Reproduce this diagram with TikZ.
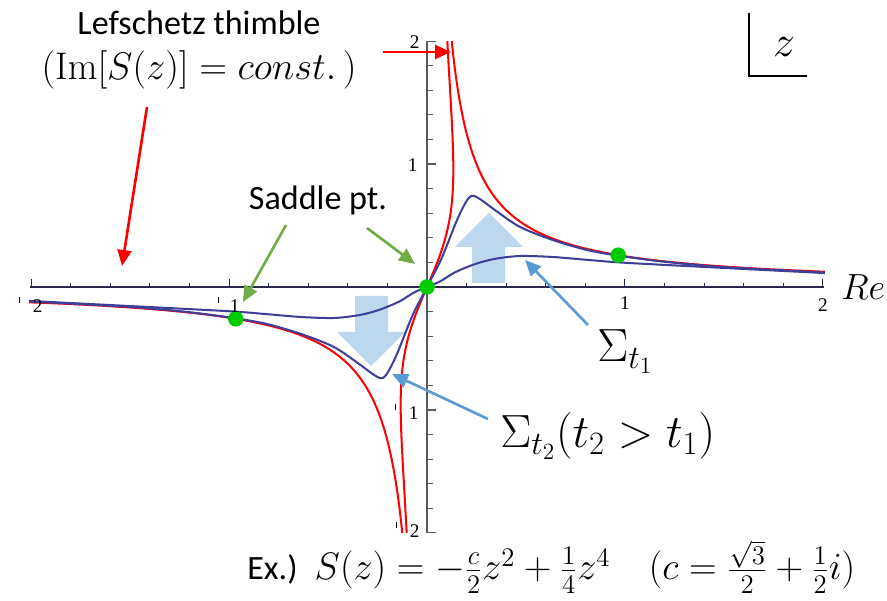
\RequirePackage{fix-cm}
\documentclass[tikz,border=0pt]{standalone}
\usepackage[no-math]{fontspec}
\setmainfont{Carlito}
\newfontfamily\tickfont{Liberation Serif}
\usetikzlibrary{arrows.meta}

\definecolor{thimblered}{RGB}{255,0,0}
\definecolor{flowblue}{RGB}{62,62,155}
\definecolor{saddlegreen}{RGB}{0,204,0}
\definecolor{pushblue}{RGB}{189,215,238}
\definecolor{noteblue}{RGB}{91,155,213}
\definecolor{notegreen}{RGB}{112,173,71}
\definecolor{axisdark}{RGB}{40,40,80}
\definecolor{axisgrey}{RGB}{90,90,90}

\newcommand{\negmark}{\rule[0.5em]{0.5pt}{0.3em}}

\begin{document}
\begin{tikzpicture}[x=0.02cm,y=-0.02cm,
  declare function={
    thA(\t)=sqrt(max(0,2*sin(2*\t+30)/sin(4*\t)));
    thB(\t)=sqrt(3.4641/(4*sin(2*\t+30)-sign(15-\t)*sqrt(max(0,16*sin(2*\t+30)*sin(2*\t+30)-13.8564*sin(4*\t)))));
  },
  thimble/.style={thimblered,line width=1.15pt},
  flow/.style={flowblue,line width=1.15pt},
  saddle/.style={fill=saddlegreen},
  note/.style={line width=1.5pt,-{Triangle[length=0.32cm,width=0.28cm]}},
  words/.style={font=\fontsize{19.4}{23}\selectfont,inner sep=0pt},
  mathwords/.style={font=\fontsize{21.9}{26}\selectfont,inner sep=0pt},
  sigmawords/.style={font=\fontsize{26.5}{31}\selectfont,inner sep=0pt},
  ticklabel/.style={font=\tickfont\fontsize{11}{13}\selectfont,inner sep=0pt},
]
\useasboundingbox (0,0) rectangle (887,601);

% push arrows behind the curves
\fill[pushblue] (472,283) -- (472,247) -- (455,247) -- (489,213) -- (523,247) -- (505,247) -- (505,283) -- cycle;
\fill[pushblue] (355,296) -- (355,332) -- (337,332) -- (371,366) -- (405,332) -- (388,332) -- (388,296) -- cycle;

\begin{scope}[shift={(427,287)},x=3.96cm,y=2.46cm]
  % axes and ticks
  \draw[axisdark,line width=1.1pt] (-2.005,0) -- (2.005,0);
  \draw[axisgrey,line width=0.85pt] (0,-2) -- (0,2);
  \foreach \i in {-10,...,10} {
    \draw[axisdark,line width=0.6pt] (\i/5,0) -- ++(0pt,0.08cm);
    \draw[axisgrey,line width=0.6pt] (0,\i/5) -- ++(0.12cm,0pt);
  }
  \foreach \i in {-2,...,2} {
    \draw[axisdark,line width=0.6pt] (\i,0) -- ++(0pt,0.16cm);
    \draw[axisgrey,line width=0.6pt] (0,\i) -- ++(0.18cm,0pt);
  }
  \begin{scope}
    \clip (-2.01,-2) rectangle (2.01,2);
    \foreach \s in {1,-1} {
      \begin{scope}[scale=\s]
        \draw[thimble] plot[domain=75:88,samples=160] ({thA(\x)*cos(\x)},{thA(\x)*sin(\x)});
        \draw[thimble] plot[domain=2.5:88,samples=400] ({thB(\x)*cos(\x)},{thB(\x)*sin(\x)});
      \end{scope}
    }
    % flowed contours
    \draw[flow] plot[smooth] coordinates {(-2.05,-0.11) (-1.5,-0.155) (-1.0,-0.197) (-0.808,-0.221) (-0.636,-0.244) (-0.47,-0.252) (-0.34,-0.228) (-0.24,-0.185) (-0.14,-0.118) (-0.066,-0.045) (0,0) (0.066,0.045) (0.14,0.118) (0.24,0.185) (0.34,0.228) (0.47,0.252) (0.636,0.244) (0.808,0.221) (1.0,0.197) (1.5,0.155) (2.05,0.11)};
    \draw[flow] plot[smooth] coordinates {(-2.05,-0.114) (-1.5,-0.162) (-1.2,-0.205) (-0.966,-0.255) (-0.808,-0.301) (-0.636,-0.382) (-0.47,-0.488) (-0.343,-0.626) (-0.276,-0.706) (-0.234,-0.742) (-0.209,-0.721) (-0.175,-0.626) (-0.141,-0.504) (-0.108,-0.368) (-0.066,-0.206) (0,0) (0.066,0.206) (0.108,0.368) (0.141,0.504) (0.175,0.626) (0.209,0.721) (0.234,0.742) (0.276,0.706) (0.343,0.626) (0.47,0.488) (0.636,0.382) (0.808,0.301) (0.966,0.255) (1.2,0.205) (1.5,0.162) (2.05,0.114)};
  \end{scope}
  % saddle points
  \fill[saddle] (0,0) circle (0.155cm);
  \fill[saddle] (0.966,0.259) circle (0.155cm);
  \fill[saddle] (-0.966,-0.259) circle (0.155cm);
\end{scope}

% tick labels
\node[ticklabel,anchor=east] (ytwo) at (420,42) {2};
\node[ticklabel,anchor=east] (yone) at (418,165) {1};
\node[ticklabel,anchor=east] (ymone) at (419,412) {\negmark\hspace{0.7em}1};
\node[ticklabel,anchor=east] (ymtwo) at (420,530) {\negmark\hspace{0.7em}2};
\node[ticklabel,anchor=east] (xmtwo) at (43,305) {\negmark\hspace{0.7em}2};
\node[ticklabel,anchor=east] (xmone) at (240,305) {\negmark\hspace{0.6em}1};
\node[ticklabel] (xone) at (625,303) {1};
\node[ticklabel] (xtwo) at (823,305) {2};

% labels
\node[words,anchor=base] (thimbletitle) at (199,35) {Lefschetz thimble};
\node[mathwords,anchor=base] (thimbleeq) at (199,80) {$(\mathrm{Im}[S(z)]=const.\,)$};
\node[words,anchor=base] (saddlelabel) at (318,210) {Saddle pt.};
\node[sigmawords,anchor=base west] (sigmaone) at (597,362) {$\Sigma_{t_1}$};
\node[sigmawords,anchor=base west] (sigmatwo) at (500,448) {$\Sigma_{t_2}(t_2>t_1)$};
\node[font=\fontsize{20.7}{25}\selectfont,inner sep=0pt,anchor=base west] (realaxis) at (841,300) {$Re$};
\node[font=\fontsize{25}{30}\selectfont,inner sep=0pt,anchor=base] (zplane) at (784,57) {$z$};
\draw[line width=1.5pt] (749,13) -- (749,76) -- (807,76);
\node[words,anchor=base west] (example) at (247,580) {Ex.)\hspace{0.5em}\fontsize{21.8}{26}\selectfont$S(z)=-\frac{c}{2}z^2+\frac{1}{4}z^4\quad(c=\frac{\sqrt{3}}{2}+\frac{1}{2}i)$};

% pointers
\coordinate (thimblefrom) at (147,107);
\coordinate (thimbleto) at (122,266);
\coordinate (topfrom) at (383,52);
\coordinate (topto) at (451,52);
\draw[note,thimblered] (thimblefrom) -- (thimbleto);
\draw[note,thimblered] (topfrom) -- (topto);
\coordinate (saddleAfrom) at (286,225);
\coordinate (saddleAto) at (243,302);
\coordinate (saddleBfrom) at (367,228);
\coordinate (saddleBto) at (415,264);
\draw[note,notegreen] (saddleAfrom) -- (saddleAto);
\draw[note,notegreen] (saddleBfrom) -- (saddleBto);
\coordinate (sigmaonefrom) at (588,325);
\coordinate (sigmaoneto) at (525,260);
\coordinate (sigmatwofrom) at (488,419);
\coordinate (sigmatwoto) at (392,374);
\draw[note,noteblue] (sigmaonefrom) -- (sigmaoneto);
\draw[note,noteblue] (sigmatwofrom) -- (sigmatwoto);
\end{tikzpicture}
\end{document}
